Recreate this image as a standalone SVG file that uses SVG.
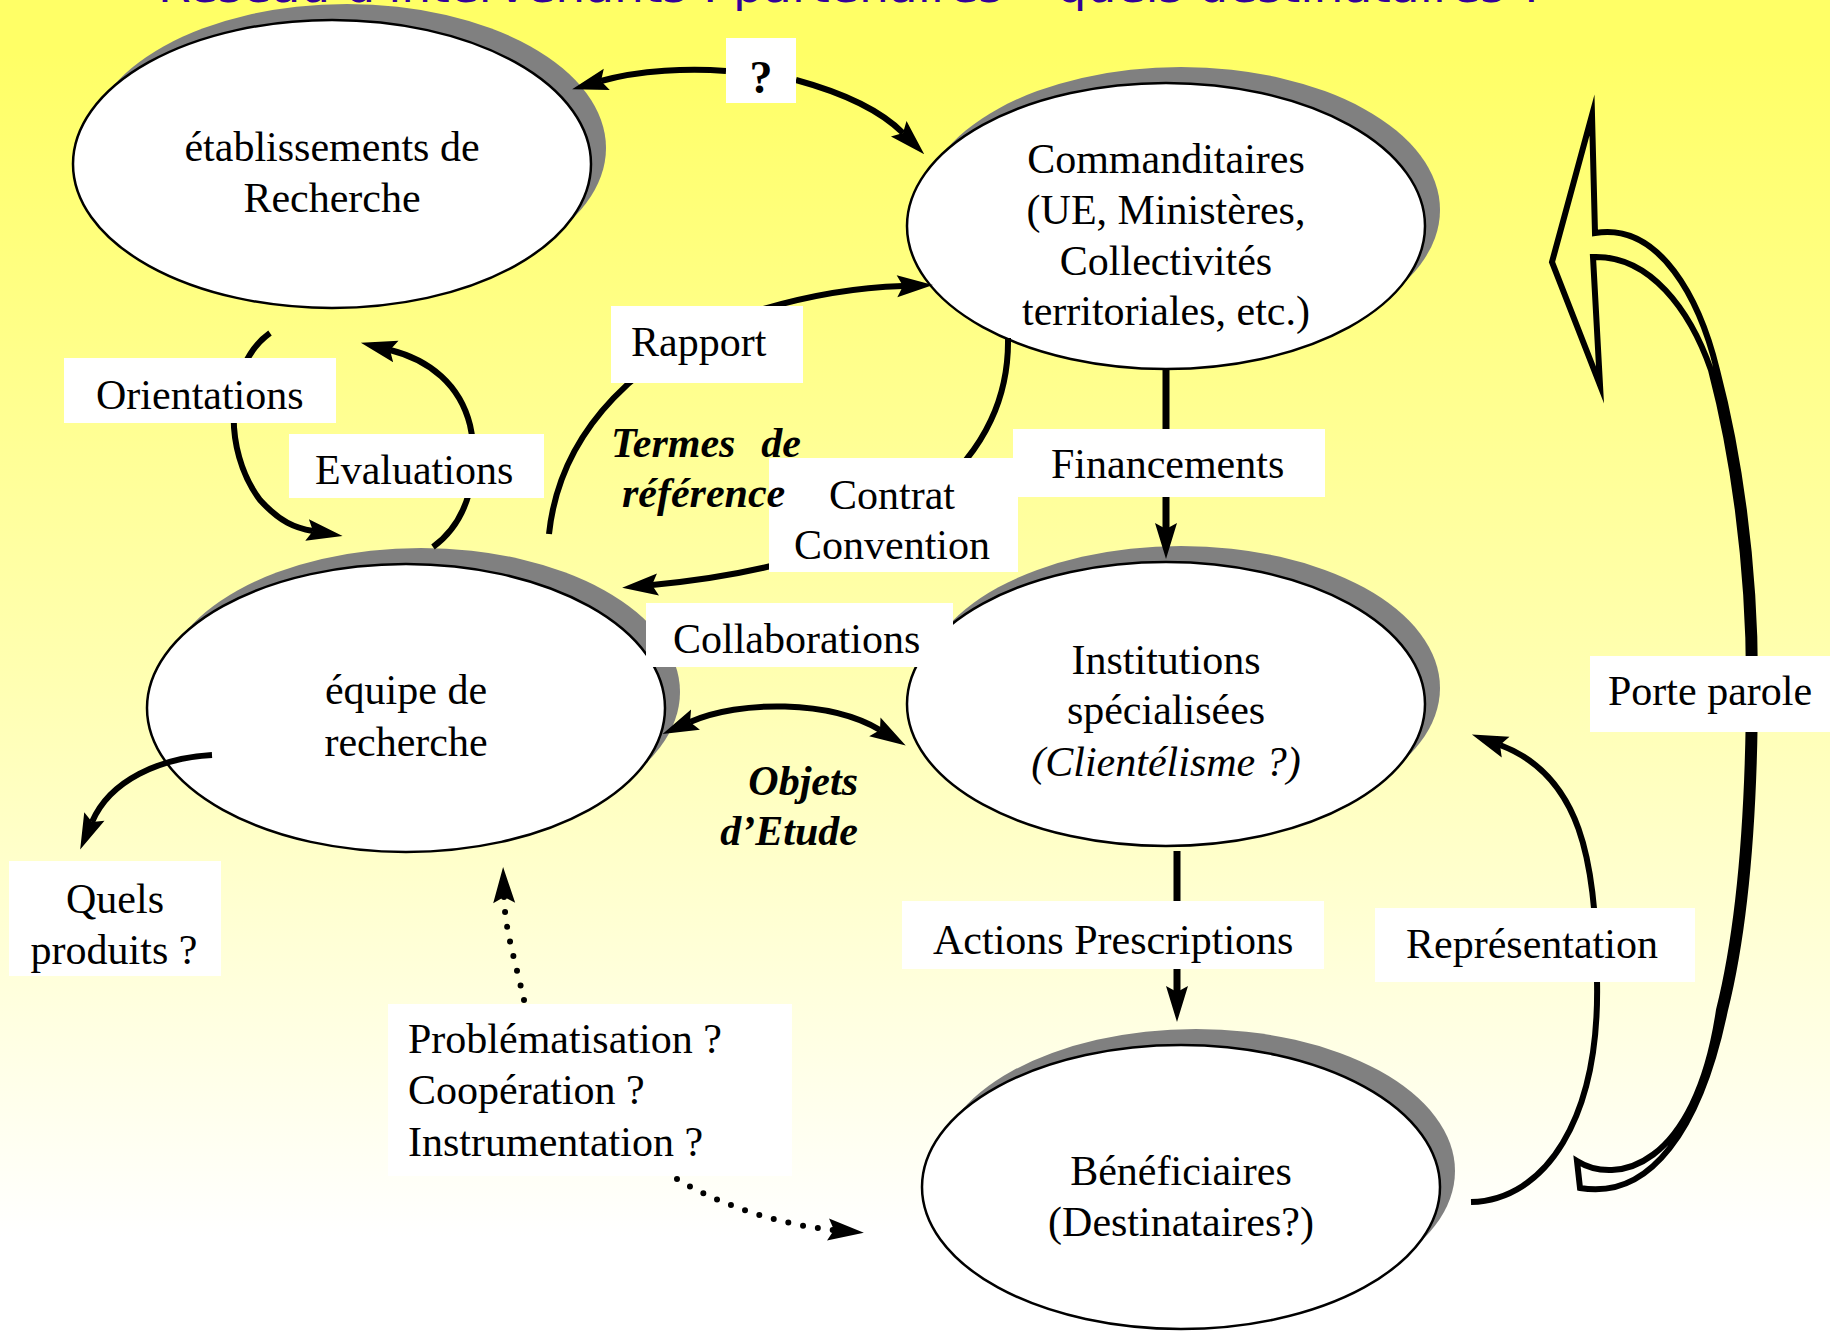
<svg xmlns="http://www.w3.org/2000/svg" width="1830" height="1331" viewBox="0 0 1830 1331">
  <defs>
    <linearGradient id="bg" x1="0" y1="0" x2="0" y2="1">
      <stop offset="0.04" stop-color="#FFFF66"/>
      <stop offset="0.5" stop-color="#FFFFB0"/>
      <stop offset="0.93" stop-color="#FFFFFF"/>
    </linearGradient>
    <marker id="ah" viewBox="-8 -13 42 26" refX="0" refY="0" markerWidth="42" markerHeight="26" markerUnits="userSpaceOnUse" orient="auto">
      <path d="M30 0 L-6 -11 L0 0 L-6 11 Z" fill="#000"/>
    </marker>
    <marker id="ahs" viewBox="-8 -13 42 26" refX="0" refY="0" markerWidth="42" markerHeight="26" markerUnits="userSpaceOnUse" orient="auto-start-reverse">
      <path d="M30 0 L-6 -11 L0 0 L-6 11 Z" fill="#000"/>
    </marker>
    <style>
      .t { font-family: "Liberation Serif", "Times New Roman", serif; font-size: 42px; fill: #000; }
      .c { text-anchor: middle; }
      .bi { font-weight: bold; font-style: italic; }
      .it { font-style: italic; }
      .shadow { fill: #808080; }
      .node { fill: #FFFFFF; stroke: #000; stroke-width: 2.5; }
      .box { fill: #FFFFFF; }
      .conn { fill: none; stroke: #000; stroke-width: 6; }
      .thick { stroke-width: 7; }
      .dot { fill: none; stroke: #000; stroke-width: 6; stroke-linecap: round; stroke-dasharray: 0 15; }
      .arrow { marker-end: url(#ah); }
    </style>
  </defs>

  <rect id="background" x="0" y="0" width="1830" height="1331" fill="url(#bg)"/>

  <g id="title">
    <text x="158" y="2" textLength="1387" lengthAdjust="spacingAndGlyphs" style="font-family:'DejaVu Sans',sans-serif;font-size:44px;fill:#330099">Réseau d'intervenants : partenaires – quels destinataires ?</text>
  </g>

  <g id="node-etablissements">
    <ellipse class="shadow" cx="347" cy="148" rx="259" ry="144"/>
    <ellipse class="node" cx="332" cy="164" rx="259" ry="144"/>
    <text class="t c" x="332" y="161">établissements de</text>
    <text class="t c" x="332" y="212">Recherche</text>
  </g>

  <g id="node-commanditaires">
    <ellipse class="shadow" cx="1181" cy="210" rx="259" ry="143"/>
    <ellipse class="node" cx="1166" cy="226" rx="259" ry="143"/>
    <text class="t c" x="1166" y="173">Commanditaires</text>
    <text class="t c" x="1166" y="224">(UE, Ministères,</text>
    <text class="t c" x="1166" y="275">Collectivités</text>
    <text class="t c" x="1166" y="325">territoriales, etc.)</text>
  </g>

  <g id="node-equipe">
    <ellipse class="shadow" cx="421" cy="692" rx="259" ry="144"/>
    <ellipse class="node" cx="406" cy="708" rx="259" ry="144"/>
    <text class="t c" x="406" y="704">équipe de</text>
    <text class="t c" x="406" y="756">recherche</text>
  </g>

  <g id="node-institutions">
    <ellipse class="shadow" cx="1181" cy="688" rx="259" ry="142"/>
    <ellipse class="node" cx="1166" cy="704" rx="259" ry="142"/>
    <text class="t c" x="1166" y="674">Institutions</text>
    <text class="t c" x="1166" y="724">spécialisées</text>
    <text class="t c it" x="1166" y="776">(Clientélisme ?)</text>
  </g>

  <g id="node-beneficiaires">
    <ellipse class="shadow" cx="1196" cy="1171" rx="259" ry="142"/>
    <ellipse class="node" cx="1181" cy="1187" rx="259" ry="142"/>
    <text class="t c" x="1181" y="1185">Bénéficiaires</text>
    <text class="t c" x="1181" y="1236">(Destinataires?)</text>
  </g>

  <g id="connectors">
    <path class="conn arrow" d="M726 71 C690 68, 640 70, 601 81"/>
    <path class="conn arrow" d="M796 80 C840 92, 880 110, 903 133"/>
    <path class="conn arrow" d="M549 534 C560 430, 640 350, 760 310 C820 292, 870 287, 903 286"/>
    <path class="conn arrow" d="M1008 338 C1010 450, 920 560, 652 585"/>
    <path class="conn arrow" d="M270 333 C225 365, 222 450, 260 500 C280 522, 295 528, 313 531"/>
    <path class="conn arrow" d="M433 547 C470 520, 480 470, 470 425 C460 385, 430 360, 390 350"/>
    <path class="conn thick arrow" d="M1166 369 L1166 529"/>
    <path class="conn" d="M690 722 C740 700, 830 700, 880 730" marker-start="url(#ahs)" marker-end="url(#ah)"/>
    <path class="conn thick arrow" d="M1177 851 L1177 992"/>
    <path class="conn arrow" d="M1471 1202 C1545 1200, 1600 1120, 1597 980 C1597 860, 1580 775, 1500 745"/>
    <path class="conn arrow" d="M212 755 C160 758, 110 780, 92 822"/>
    <path class="dot" d="M524 1000 C515 960, 505 930, 504 897" marker-end="url(#ah)"/>
    <path class="dot" d="M677 1179 C720 1205, 780 1225, 834 1230" marker-end="url(#ah)"/>
    <path id="porte-parole-arrow" fill="none" stroke="#000" stroke-width="6" stroke-linejoin="miter" stroke-miterlimit="14" d="M1593 257 L1600 385 L1552 262 L1592 115 L1595 233 C1660 222, 1700 300, 1717 370 C1738 450, 1755 560, 1755 680 C1755 820, 1745 930, 1725 1010 C1700 1130, 1650 1200, 1580 1188 L1577 1161 C1615 1185, 1695 1170, 1719 1010 C1739 930, 1749 820, 1749 680 C1749 560, 1732 450, 1711 370 C1690 310, 1650 255, 1593 257 Z"/>
  </g>

  <g id="labels">
    <g id="label-question">
      <rect class="box" x="726" y="38" width="70" height="65"/>
      <text class="t c" x="761" y="93" style="font-weight:bold;font-size:46px">?</text>
    </g>
    <g id="label-rapport">
      <rect class="box" x="611" y="306" width="192" height="77"/>
      <text class="t" x="631" y="356">Rapport</text>
    </g>
    <g id="label-orientations">
      <rect class="box" x="64" y="358" width="272" height="65"/>
      <text class="t" x="96" y="409">Orientations</text>
    </g>
    <g id="label-evaluations">
      <rect class="box" x="289" y="434" width="255" height="64"/>
      <text class="t" x="315" y="484">Evaluations</text>
    </g>
    <g id="label-contrat">
      <rect class="box" x="769" y="458" width="249" height="114"/>
      <text class="t c" x="892" y="509">Contrat</text>
      <text class="t c" x="892" y="559">Convention</text>
    </g>
    <g id="label-financements">
      <rect class="box" x="1013" y="429" width="312" height="68"/>
      <text class="t" x="1051" y="478">Financements</text>
    </g>
    <g id="label-collaborations">
      <rect class="box" x="646" y="603" width="307" height="64"/>
      <text class="t" x="673" y="653">Collaborations</text>
    </g>
    <g id="label-actions">
      <rect class="box" x="902" y="901" width="422" height="68"/>
      <text class="t" x="933" y="954">Actions Prescriptions</text>
    </g>
    <g id="label-representation">
      <rect class="box" x="1375" y="908" width="320" height="74"/>
      <text class="t" x="1406" y="958">Représentation</text>
    </g>
    <g id="label-porte-parole">
      <rect class="box" x="1590" y="656" width="240" height="76"/>
      <text class="t" x="1608" y="705">Porte parole</text>
    </g>
    <g id="label-quels-produits">
      <rect class="box" x="9" y="861" width="212" height="115"/>
      <text class="t c" x="115" y="913">Quels</text>
      <text class="t c" x="114" y="964">produits ?</text>
    </g>
    <g id="label-problematisation">
      <rect class="box" x="388" y="1004" width="404" height="172"/>
      <text class="t" x="408" y="1053">Problématisation ?</text>
      <text class="t" x="408" y="1104">Coopération ?</text>
      <text class="t" x="408" y="1156">Instrumentation ?</text>
    </g>
    <g id="label-termes">
      <text class="t bi" x="611" y="457">Termes</text>
      <text class="t bi" x="801" y="457" text-anchor="end">de</text>
      <text class="t bi" x="622" y="507">référence</text>
    </g>
    <g id="label-objets">
      <text class="t bi" x="858" y="795" text-anchor="end">Objets</text>
      <text class="t bi" x="858" y="845" text-anchor="end">d’Etude</text>
    </g>
  </g>
</svg>
